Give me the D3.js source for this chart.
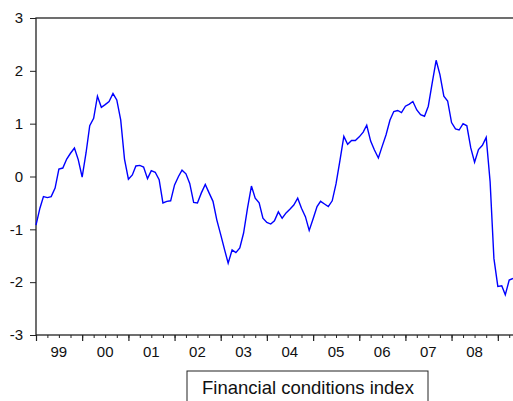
<!DOCTYPE html>
<html>
<head>
<meta charset="utf-8">
<script src="https://cdn.jsdelivr.net/npm/d3@7"></script>
<style>
  body { margin: 0; background: #fff; }
  svg { display: block; font-family: "Liberation Sans", Arial, sans-serif; }
</style>
</head>
<body>
<div id="chart"></div>
<script>
// monthly observations, 1999M01 .. 2009M05
var startYear = 1999;
var fciValues = [
  -0.92, -0.60, -0.38, -0.40, -0.38, -0.22, 0.14, 0.16, 0.33, 0.44, 0.54, 0.32,
  -0.01, 0.45, 0.96, 1.10, 1.52, 1.31, 1.36, 1.42, 1.57, 1.45, 1.07, 0.33,
  -0.05, 0.03, 0.20, 0.21, 0.18, -0.04, 0.11, 0.08, -0.06, -0.50, -0.47, -0.46,
  -0.16, 0.00, 0.12, 0.05, -0.13, -0.49, -0.50, -0.31, -0.15, -0.31, -0.47, -0.82,
  -1.10, -1.39, -1.64, -1.39, -1.44, -1.35, -1.07, -0.60, -0.18, -0.41, -0.50, -0.79,
  -0.87, -0.90, -0.84, -0.67, -0.79, -0.69, -0.62, -0.54, -0.41, -0.60, -0.76, -1.02,
  -0.80, -0.57, -0.47, -0.52, -0.57, -0.46, -0.14, 0.30, 0.76, 0.61, 0.68, 0.68,
  0.75, 0.84, 0.97, 0.67, 0.50, 0.35, 0.57, 0.79, 1.07, 1.23, 1.25, 1.21,
  1.33, 1.37, 1.42, 1.26, 1.17, 1.14, 1.33, 1.77, 2.20, 1.93, 1.52, 1.43,
  1.02, 0.90, 0.88, 1.00, 0.96, 0.54, 0.27, 0.51, 0.59, 0.74, -0.10, -1.55,
  -2.08, -2.07, -2.24, -1.96, -1.93
];
var yearLabels = ["99", "00", "01", "02", "03", "04", "05", "06", "07", "08"];
var yTicks = [-3, -2, -1, 0, 1, 2, 3];
var legendLabel = "Financial conditions index";

var width = 513, height = 401;
var margin = { top: 18, right: 0, bottom: 66, left: 36 };

var svg = d3.select("#chart").append("svg")
    .attr("width", width)
    .attr("height", height);

var data = fciValues.map(function(v, i) {
    return { date: new Date(startYear, i, 1), value: v };
});

var x = d3.scaleTime()
    .domain([data[0].date, data[data.length - 1].date])
    .range([margin.left, width - margin.right]);

var y = d3.scaleLinear()
    .domain([-3, 3])
    .range([height - margin.bottom, margin.top]);

// frame
svg.append("rect")
    .attr("x", margin.left)
    .attr("y", margin.top)
    .attr("width", width - margin.right - margin.left + 2)
    .attr("height", y(-3) - margin.top)
    .attr("fill", "none")
    .attr("stroke", "#222")
    .attr("stroke-width", 1.3);

// y axis (EViews style: plain hyphen for negatives)
var yAxis = svg.append("g")
    .attr("transform", "translate(" + margin.left + ",0)")
    .call(d3.axisLeft(y).tickValues(yTicks).tickSize(6).tickPadding(7)
        .tickFormat(function(d) { return String(d); }));
yAxis.select(".domain").remove();
yAxis.selectAll("line").attr("stroke", "#222");
yAxis.selectAll("text").attr("font-size", 15).attr("fill", "#111")
    .attr("font-family", "Liberation Sans, Arial, sans-serif");

// x axis: quarterly minor ticks, yearly major ticks
var quarters = d3.timeMonth.every(3).range(data[0].date, x.domain()[1]);
var years = d3.timeYear.range(data[0].date, x.domain()[1]);

var xAxisMinor = svg.append("g")
    .attr("transform", "translate(0," + y(-3) + ")")
    .call(d3.axisBottom(x).tickValues(quarters).tickSize(3).tickFormat(""));
xAxisMinor.select(".domain").remove();
xAxisMinor.selectAll("line").attr("stroke", "#222");

var xAxisMajor = svg.append("g")
    .attr("transform", "translate(0," + y(-3) + ")")
    .call(d3.axisBottom(x).tickValues(years).tickSize(6).tickFormat(""));
xAxisMajor.select(".domain").remove();
xAxisMajor.selectAll("line").attr("stroke", "#222").attr("stroke-width", 1.2);

// year labels centred in each year
svg.append("g").selectAll("text")
    .data(yearLabels)
    .enter()
    .append("text")
    .attr("x", function(d, i) { return x(new Date(startYear + i, 6, 1)); })
    .attr("y", y(-3) + 22)
    .attr("text-anchor", "middle")
    .attr("font-size", 15)
    .attr("fill", "#111")
    .text(function(d) { return d; });

// series
var line = d3.line()
    .x(function(d) { return x(d.date); })
    .y(function(d) { return y(d.value); });

svg.append("path")
    .datum(data)
    .attr("d", line)
    .attr("fill", "none")
    .attr("stroke", "#0000ff")
    .attr("stroke-width", 1.4)
    .attr("stroke-linejoin", "miter");

// legend box
var legend = svg.append("g").attr("transform", "translate(187,371)");
legend.append("rect")
    .attr("width", 241)
    .attr("height", 40)
    .attr("fill", "#fff")
    .attr("stroke", "#222")
    .attr("stroke-width", 1);
legend.append("text")
    .attr("x", 121)
    .attr("y", 23)
    .attr("text-anchor", "middle")
    .attr("font-size", 18.5)
    .attr("fill", "#111")
    .text(legendLabel);
</script>
</body>
</html>
